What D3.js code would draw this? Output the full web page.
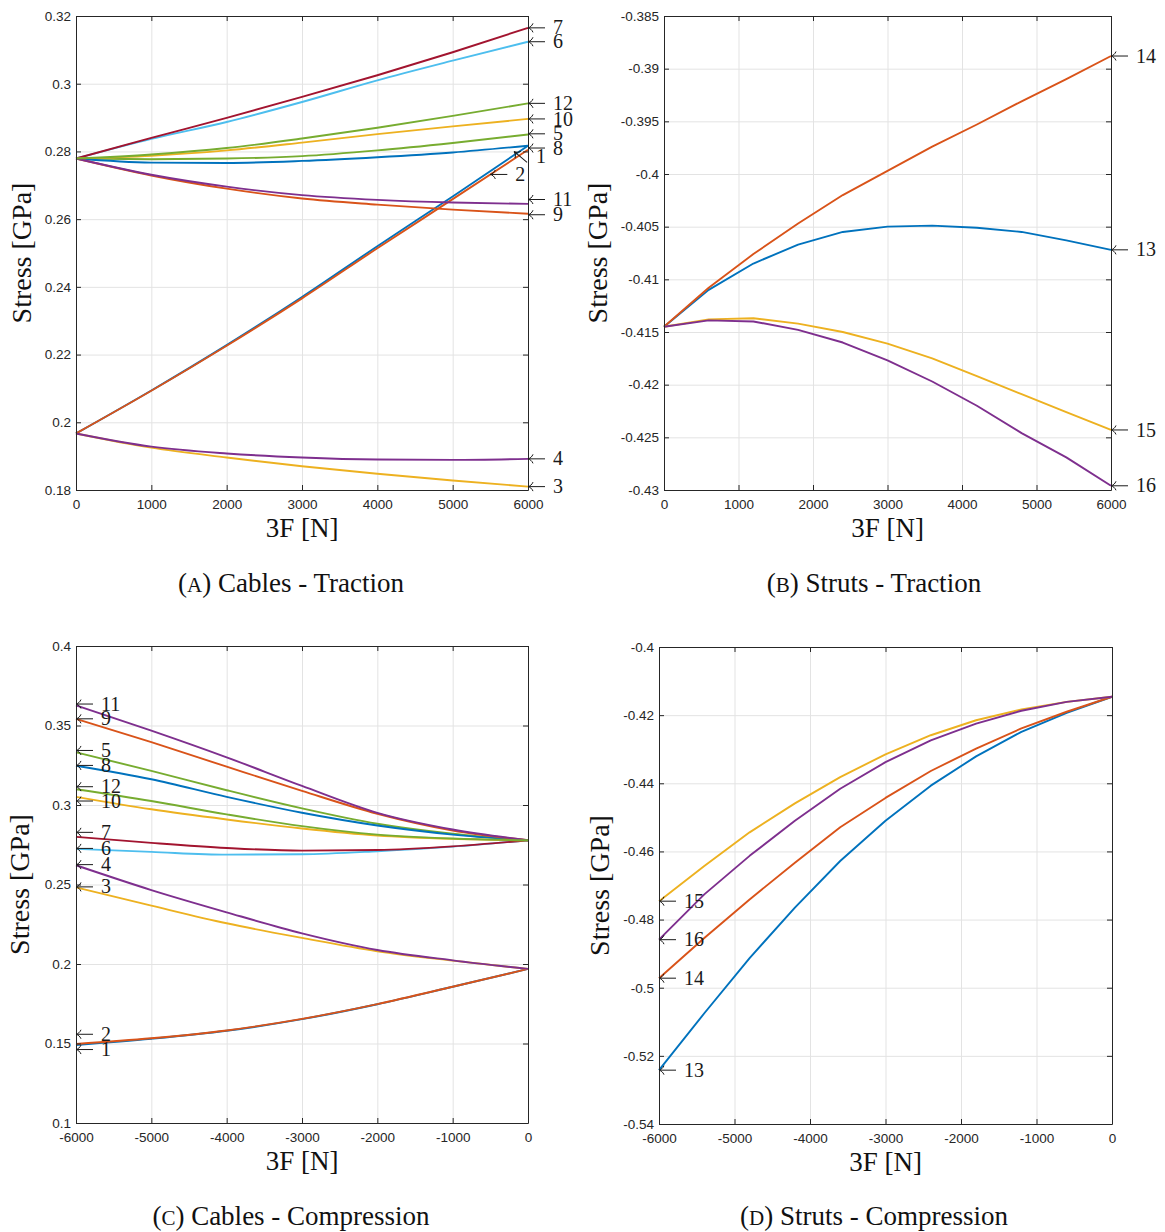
<!DOCTYPE html>
<html>
<head>
<meta charset="utf-8">
<script src="https://cdn.jsdelivr.net/npm/d3@7"></script>
<style>
  html, body { margin: 0; padding: 0; background: #fff; }
  svg { display: block; }
</style>
</head>
<body>
<svg id="chart" width="1165" height="1232"></svg>
<script>
// ---------------- DATA ----------------
const matlabColors = ["#0072BD", "#D95319", "#EDB120", "#7E2F8E", "#77AC30", "#4DBEEE", "#A2142F"];

// x values
const forceTraction = [0, 1000, 2000, 3000, 4000, 5000, 6000];
const forceCompression = [-6000, -5000, -4000, -3000, -2000, -1000, 0];
const forceTractionFine = [0, 600, 1200, 1800, 2400, 3000, 3600, 4200, 4800, 5400, 6000];
const forceCompressionFine = [-6000, -5400, -4800, -4200, -3600, -3000, -2400, -1800, -1200, -600, 0];

// tick labels
const xTicksTraction = [0, 1000, 2000, 3000, 4000, 5000, 6000];
const xTicksCompression = [-6000, -5000, -4000, -3000, -2000, -1000, 0];
const yTicksA = [0.18, 0.2, 0.22, 0.24, 0.26, 0.28, 0.3, 0.32];
const yTicksB = [-0.43, -0.425, -0.42, -0.415, -0.41, -0.405, -0.4, -0.395, -0.39, -0.385];
const yTicksC = [0.1, 0.15, 0.2, 0.25, 0.3, 0.35, 0.4];
const yTicksD = [-0.54, -0.52, -0.5, -0.48, -0.46, -0.44, -0.42, -0.4];

// (A) Cables - Traction, members 1..12 [GPa]
const cablesTraction = [
  [0.1967, 0.2094, 0.2228, 0.2370, 0.2520, 0.2667, 0.2817], // 1
  [0.1967, 0.2093, 0.2226, 0.2366, 0.2514, 0.2659, 0.2805], // 2
  [0.1967, 0.1925, 0.1896, 0.1870, 0.1848, 0.1828, 0.1810], // 3
  [0.1967, 0.1928, 0.1908, 0.1896, 0.1890, 0.1889, 0.1892], // 4
  [0.2779, 0.2777, 0.2779, 0.2786, 0.2803, 0.2825, 0.2850], // 5
  [0.2779, 0.2837, 0.2887, 0.2946, 0.3010, 0.3068, 0.3124], // 6
  [0.2779, 0.2840, 0.2899, 0.2961, 0.3025, 0.3093, 0.3165], // 7
  [0.2779, 0.2767, 0.2766, 0.2772, 0.2783, 0.2797, 0.2817], // 8
  [0.2779, 0.2729, 0.2690, 0.2661, 0.2643, 0.2628, 0.2616], // 9
  [0.2779, 0.2787, 0.2803, 0.2826, 0.2851, 0.2874, 0.2896], // 10
  [0.2779, 0.2731, 0.2696, 0.2671, 0.2657, 0.2649, 0.2645], // 11
  [0.2779, 0.2791, 0.2810, 0.2838, 0.2870, 0.2905, 0.2942]  // 12
];
// label anchors (data units): [name, x, y, arrow angle]
const cablesTractionLabels = [
  ["7", 6000, 0.3165, 0], ["6", 6000, 0.3124, 0], ["12", 6000, 0.2942, 0],
  ["10", 6000, 0.2896, 0], ["5", 6000, 0.2852, 0], ["8", 6000, 0.2810, 0],
  ["1", 5815, 0.2800, 40], ["2", 5500, 0.2732, 0], ["11", 6000, 0.2658, 0],
  ["9", 6000, 0.2613, 0], ["4", 6000, 0.1892, 0], ["3", 6000, 0.1810, 0]
];

// (B) Struts - Traction, members 13..16 [GPa]
const strutsTraction = [
  [-0.4145, -0.4110, -0.4085, -0.4067, -0.4055, -0.4050, -0.4049, -0.4051, -0.4055, -0.4063, -0.4072], // 13
  [-0.4145, -0.4108, -0.4076, -0.4047, -0.4020, -0.3997, -0.3974, -0.3953, -0.3931, -0.3910, -0.3888], // 14
  [-0.4145, -0.4138, -0.4137, -0.4142, -0.4150, -0.4161, -0.4175, -0.4192, -0.4209, -0.4226, -0.4243], // 15
  [-0.4145, -0.4139, -0.4140, -0.4148, -0.4160, -0.4177, -0.4197, -0.4220, -0.4246, -0.4269, -0.4296]  // 16
];
const strutsTractionLabels = [
  ["14", 6000, -0.3888, 0], ["13", 6000, -0.4072, 0], ["15", 6000, -0.4243, 0], ["16", 6000, -0.4296, 0]
];

// (C) Cables - Compression, members 1..12 [GPa]
const cablesCompression = [
  [0.1491, 0.1530, 0.1580, 0.1653, 0.1747, 0.1857, 0.1969], // 1
  [0.1497, 0.1533, 0.1582, 0.1655, 0.1748, 0.1857, 0.1969], // 2
  [0.2482, 0.2367, 0.2256, 0.2164, 0.2080, 0.2021, 0.1969], // 3
  [0.2621, 0.2465, 0.2325, 0.2193, 0.2088, 0.2023, 0.1969], // 4
  [0.3331, 0.3215, 0.3093, 0.2979, 0.2882, 0.2819, 0.2778], // 5
  [0.2724, 0.2705, 0.2688, 0.2690, 0.2709, 0.2738, 0.2778], // 6
  [0.2800, 0.2762, 0.2730, 0.2713, 0.2717, 0.2740, 0.2778], // 7
  [0.3247, 0.3162, 0.3051, 0.2951, 0.2871, 0.2814, 0.2778], // 8
  [0.3542, 0.3395, 0.3241, 0.3089, 0.2945, 0.2840, 0.2778], // 9
  [0.3051, 0.2973, 0.2909, 0.2852, 0.2808, 0.2787, 0.2778], // 10
  [0.3627, 0.3468, 0.3300, 0.3120, 0.2951, 0.2846, 0.2778], // 11
  [0.3099, 0.3025, 0.2941, 0.2867, 0.2814, 0.2789, 0.2778]  // 12
];
const cablesCompressionLabels = [
  ["11", -6000, 0.3635, 0], ["9", -6000, 0.3542, 0], ["5", -6000, 0.3343, 0],
  ["8", -6000, 0.3249, 0], ["12", -6000, 0.3115, 0], ["10", -6000, 0.3025, 0],
  ["7", -6000, 0.2828, 0], ["6", -6000, 0.2727, 0], ["4", -6000, 0.2625, 0],
  ["3", -6000, 0.2485, 0], ["2", -6000, 0.1558, 0], ["1", -6000, 0.1462, 0]
];

// (D) Struts - Compression, members 13..16 [GPa]
const strutsCompression = [
  [-0.5242, -0.5075, -0.4913, -0.4765, -0.4628, -0.4510, -0.4407, -0.4321, -0.4249, -0.4193, -0.4146], // 13
  [-0.4972, -0.4854, -0.4741, -0.4633, -0.4529, -0.4443, -0.4364, -0.4298, -0.4239, -0.4190, -0.4146], // 14
  [-0.4746, -0.4643, -0.4544, -0.4459, -0.4382, -0.4315, -0.4259, -0.4215, -0.4183, -0.4161, -0.4146], // 15
  [-0.4859, -0.4726, -0.4613, -0.4510, -0.4416, -0.4338, -0.4274, -0.4225, -0.4187, -0.4161, -0.4146]  // 16
];
const strutsCompressionLabels = [
  ["15", -6000, -0.4746, 0], ["16", -6000, -0.4859, 0], ["14", -6000, -0.4972, 0], ["13", -6000, -0.5242, 0]
];

const captions = [["A", "Cables - Traction"], ["B", "Struts - Traction"], ["C", "Cables - Compression"], ["D", "Struts - Compression"]];

// ---------------- DRAWING ----------------
const svg = d3.select("#chart");
svg.append("rect").attr("width", 1165).attr("height", 1232).attr("fill", "#fff");

const AX = "#262626";
const tickFont = "'Liberation Sans', Arial, sans-serif";
const serif = "'Liberation Serif', 'Times New Roman', serif";
const fmt = v => String(+v.toFixed(4));

function drawPanel(cfg) {
  const { left, right, top, bottom, xDomain, yDomain, xTicks, yTicks, xs, series, labels, curve, ylabX, capX, capY, cap } = cfg;
  const x = d3.scaleLinear().domain(xDomain).range([left, right]);
  const y = d3.scaleLinear().domain(yDomain).range([bottom, top]);
  const g = svg.append("g");

  // grid
  const gx = g.append("g").attr("transform", `translate(0,${bottom})`)
    .call(d3.axisBottom(x).tickValues(xTicks).tickSize(-(bottom - top)).tickFormat(""));
  const gy = g.append("g").attr("transform", `translate(${left},0)`)
    .call(d3.axisLeft(y).tickValues(yTicks).tickSize(-(right - left)).tickFormat(""));
  [gx, gy].forEach(a => {
    a.select(".domain").remove();
    a.selectAll("line").attr("stroke", "#e3e3e3").attr("stroke-width", 1);
  });

  // lines
  const line = d3.line().x((d, i) => x(xs[i])).y(d => y(d)).curve(curve);
  series.forEach((s, i) => {
    g.append("path").attr("d", line(s)).attr("fill", "none")
      .attr("stroke", matlabColors[i % 7]).attr("stroke-width", 1.9)
      .attr("stroke-linejoin", "round");
  });

  // axes (box with inner ticks)
  const styleAxis = a => {
    a.attr("font-family", tickFont).attr("font-size", 13.5);
    a.select(".domain").attr("stroke", AX).attr("stroke-width", 1);
    a.selectAll(".tick line").attr("stroke", AX);
    a.selectAll("text").attr("fill", AX);
  };
  styleAxis(g.append("g").attr("transform", `translate(0,${bottom})`)
    .call(d3.axisBottom(x).tickValues(xTicks).tickFormat(fmt).tickSize(-5).tickSizeOuter(0).tickPadding(9)));
  styleAxis(g.append("g").attr("transform", `translate(0,${top})`)
    .call(d3.axisTop(x).tickValues(xTicks).tickFormat("").tickSize(-5).tickSizeOuter(0)));
  styleAxis(g.append("g").attr("transform", `translate(${left},0)`)
    .call(d3.axisLeft(y).tickValues(yTicks).tickFormat(fmt).tickSize(-5).tickSizeOuter(0).tickPadding(5)));
  styleAxis(g.append("g").attr("transform", `translate(${right},0)`)
    .call(d3.axisRight(y).tickValues(yTicks).tickFormat("").tickSize(-5).tickSizeOuter(0)));

  // member labels: "<- n"
  labels.forEach(([name, lx, ly, ang]) => {
    const tx = x(lx), ty = y(ly);
    const arrow = g.append("path")
      .attr("d", `M${tx},${ty} L${tx + 17},${ty} M${tx + 5},${ty - 4.5} C${tx + 4},${ty - 2} ${tx + 2},${ty - 0.5} ${tx},${ty} C${tx + 2},${ty + 0.5} ${tx + 4},${ty + 2} ${tx + 5},${ty + 4.5}`)
      .attr("fill", "none").attr("stroke", "#1a1a1a").attr("stroke-width", 1);
    let textX = tx + 25, textY = ty;
    if (ang) {
      arrow.attr("transform", `rotate(${ang},${tx},${ty})`);
      textX = tx + 22; textY = ty + 5;
    }
    g.append("text").attr("x", textX).attr("y", textY).attr("dy", "0.33em")
      .attr("font-family", serif).attr("font-size", 20).attr("fill", "#1a1a1a").text(name);
  });

  // axis titles
  g.append("text").attr("x", (left + right) / 2).attr("y", bottom + 47)
    .attr("text-anchor", "middle").attr("font-family", serif).attr("font-size", 27)
    .attr("fill", "#111").text("3F [N]");
  g.append("text").attr("transform", `translate(${ylabX},${(top + bottom) / 2}) rotate(-90)`)
    .attr("text-anchor", "middle").attr("dy", "0.32em").attr("font-family", serif).attr("font-size", 28)
    .attr("fill", "#111").text("Stress [GPa]");

  // caption
  const c = g.append("text").attr("x", capX).attr("y", capY).attr("text-anchor", "middle")
    .attr("font-family", serif).attr("font-size", 27).attr("fill", "#111");
  c.append("tspan").text("(");
  c.append("tspan").attr("font-size", 21).text(cap[0]);
  c.append("tspan").text(") " + cap[1]);
}

drawPanel({
  left: 76, right: 528, top: 16, bottom: 490,
  xDomain: [0, 6000], yDomain: [0.18, 0.32], xTicks: xTicksTraction, yTicks: yTicksA,
  xs: forceTraction, series: cablesTraction, labels: cablesTractionLabels,
  curve: d3.curveMonotoneX, ylabX: 22, capX: 291, capY: 592, cap: captions[0]
});
drawPanel({
  left: 664, right: 1111, top: 16, bottom: 490,
  xDomain: [0, 6000], yDomain: [-0.43, -0.385], xTicks: xTicksTraction, yTicks: yTicksB,
  xs: forceTractionFine, series: strutsTraction, labels: strutsTractionLabels,
  curve: d3.curveLinear, ylabX: 598, capX: 874, capY: 592, cap: captions[1]
});
drawPanel({
  left: 76, right: 528, top: 646, bottom: 1123,
  xDomain: [-6000, 0], yDomain: [0.1, 0.4], xTicks: xTicksCompression, yTicks: yTicksC,
  xs: forceCompression, series: cablesCompression, labels: cablesCompressionLabels,
  curve: d3.curveMonotoneX, ylabX: 20, capX: 291, capY: 1225, cap: captions[2]
});
drawPanel({
  left: 659, right: 1112, top: 647, bottom: 1124,
  xDomain: [-6000, 0], yDomain: [-0.54, -0.4], xTicks: xTicksCompression, yTicks: yTicksD,
  xs: forceCompressionFine, series: strutsCompression, labels: strutsCompressionLabels,
  curve: d3.curveLinear, ylabX: 600, capX: 874, capY: 1225, cap: captions[3]
});
</script>
</body>
</html>
